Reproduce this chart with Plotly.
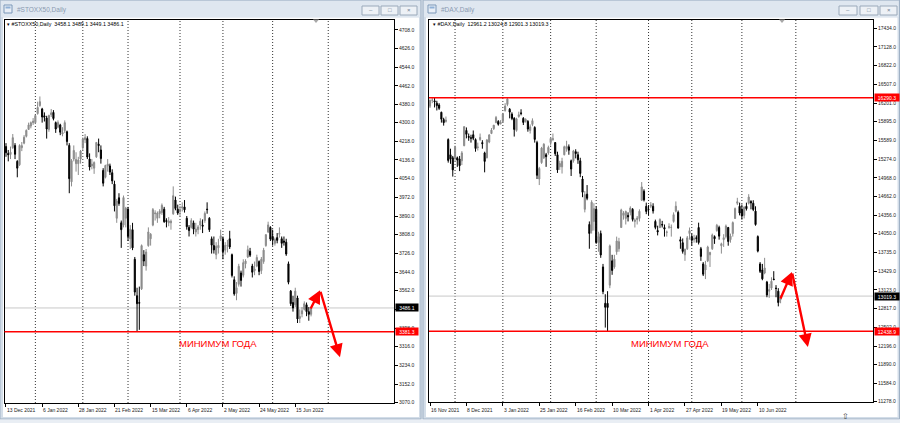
import plotly.graph_objects as go

# ---------------- #STOXX50, Daily  (bar 0 = 13 Dec 2021, last bar = 24 Jun 2022) ----------------
stoxx_open = [
    4195, 4165, 4160, 4190, 4200, 4130, 4115, 4190, 4210, 4240,
    4270, 4285, 4300, 4300, 4340, 4375, 4360, 4330, 4320, 4270,
    4335, 4345, 4300, 4280, 4290, 4250, 4265, 4260, 4200, 4040,
    4140, 4120, 4120, 4140, 4190, 4225, 4230, 4140, 4110, 4100,
    4150, 4205, 4180, 4090, 4060, 4110, 4110, 4080, 4030, 3880,
    3970, 3860, 3850, 3880, 3920, 3790, 3830, 3700, 3540, 3510,
    3570, 3720, 3670, 3760, 3790, 3850, 3900, 3880, 3900, 3905,
    3920, 3870, 3860, 3860, 3900, 3960, 3920, 3910, 3925, 3930,
    3880, 3840, 3840, 3860, 3820, 3830, 3850, 3850, 3870, 3920,
    3880, 3790, 3760, 3720, 3750, 3790, 3790, 3740, 3760, 3790,
    3720, 3610, 3550, 3590, 3640, 3630, 3680, 3710, 3735, 3670,
    3650, 3670, 3690, 3650, 3690, 3760, 3820, 3840, 3800, 3770,
    3795, 3810, 3790, 3780, 3775, 3680, 3560, 3510, 3500, 3530,
    3440, 3460, 3480, 3500, 3470, 3458.1]
stoxx_high = [
    4210, 4180, 4195, 4250, 4210, 4135, 4205, 4215, 4245, 4270,
    4300, 4305, 4320, 4335, 4392, 4415, 4365, 4345, 4330, 4335,
    4360, 4355, 4305, 4310, 4295, 4280, 4310, 4265, 4210, 4140,
    4200, 4170, 4150, 4180, 4235, 4250, 4240, 4165, 4140, 4130,
    4215, 4230, 4200, 4100, 4115, 4140, 4120, 4095, 4045, 3965,
    3990, 3870, 3980, 3930, 3930, 3850, 3860, 3710, 3575, 3580,
    3765, 3740, 3745, 3840, 3815, 3925, 3915, 3910, 3920, 3945,
    3930, 3880, 3885, 3875, 4020, 3975, 3940, 3935, 3950, 3960,
    3890, 3850, 3880, 3870, 3860, 3850, 3880, 3875, 3910, 3950,
    3885, 3800, 3800, 3775, 3790, 3830, 3800, 3775, 3785, 3825,
    3725, 3625, 3600, 3680, 3650, 3700, 3700, 3760, 3750, 3680,
    3690, 3720, 3695, 3710, 3750, 3810, 3865, 3845, 3830, 3795,
    3815, 3840, 3800, 3800, 3790, 3690, 3565, 3540, 3575, 3540,
    3480, 3490, 3515, 3510, 3490, 3489.1]
stoxx_low = [
    4150, 4130, 4140, 4185, 4140, 4060, 4110, 4175, 4205, 4235,
    4268, 4275, 4290, 4295, 4335, 4370, 4300, 4305, 4230, 4260,
    4325, 4310, 4255, 4275, 4245, 4240, 4255, 4200, 3990, 4020,
    4130, 4085, 4070, 4120, 4180, 4210, 4140, 4090, 4095, 4075,
    4145, 4170, 4120, 4020, 4055, 4085, 4070, 4030, 3910, 3860,
    3935, 3750, 3840, 3840, 3780, 3745, 3740, 3540, 3381.3, 3390,
    3565, 3670, 3650, 3755, 3760, 3845, 3870, 3860, 3880, 3895,
    3860, 3840, 3845, 3830, 3895, 3915, 3895, 3890, 3910, 3905,
    3830, 3800, 3835, 3810, 3800, 3810, 3830, 3815, 3860, 3900,
    3820, 3725, 3725, 3700, 3725, 3780, 3700, 3720, 3730, 3745,
    3620, 3540, 3520, 3580, 3580, 3620, 3660, 3705, 3710, 3620,
    3630, 3665, 3630, 3635, 3680, 3755, 3815, 3780, 3760, 3760,
    3770, 3795, 3750, 3760, 3715, 3590, 3495, 3470, 3490, 3420,
    3420, 3445, 3475, 3450, 3430, 3449.1]
stoxx_close = [
    4168, 4159, 4170, 4234, 4161, 4100, 4200, 4199, 4236, 4266,
    4290, 4300, 4306, 4331, 4367, 4392, 4325, 4324, 4272, 4331,
    4343, 4318, 4272, 4301, 4258, 4257, 4300, 4217, 4054, 4133,
    4178, 4138, 4136, 4175, 4228, 4234, 4149, 4105, 4118, 4125,
    4213, 4200, 4142, 4034, 4112, 4118, 4083, 4044, 3935, 3956,
    3945, 3830, 3971, 3924, 3800, 3832, 3750, 3556, 3505, 3507,
    3760, 3692, 3732, 3820, 3810, 3918, 3903, 3903, 3911, 3937,
    3865, 3866, 3868, 3867, 3979, 3923, 3903, 3919, 3930, 3917,
    3843, 3826, 3870, 3832, 3833, 3842, 3867, 3845, 3901, 3918,
    3830, 3762, 3741, 3757, 3761, 3803, 3733, 3761, 3761, 3754,
    3629, 3548, 3575, 3669, 3607, 3685, 3692, 3742, 3718, 3643,
    3657, 3708, 3646, 3700, 3740, 3808, 3851, 3789, 3784, 3787,
    3783, 3814, 3770, 3775, 3723, 3599, 3505, 3486, 3560, 3438,
    3449, 3474, 3505, 3470, 3458.1, 3486.1]
stoxx_price_ticks = [4708, 4626, 4544, 4462, 4380, 4300, 4218, 4136, 4054, 3972, 3890,
                     3808, 3726, 3644, 3562, 3480, 3398, 3316, 3234, 3152, 3070]
stoxx_date_bars = [0, 16, 32, 48, 64, 80, 96, 112, 128]
stoxx_date_labels = ["13 Dec 2021", "6 Jan 2022", "28 Jan 2022", "21 Feb 2022", "15 Mar 2022",
                     "6 Apr 2022", "2 May 2022", "24 May 2022", "15 Jun 2022"]
stoxx_month_bars = [13, 34, 54, 77, 96, 118, 142.6]
stoxx_year_low = 3381.3
stoxx_arrow_bars = [134.5, 139, 147.8]
stoxx_arrow_prices = [3477, 3564, 3270]
stoxx_note_pos = (93.8, 3332)

# ---------------- #DAX, Daily  (bar 0 = 16 Nov 2021, last bar = 24 Jun 2022) ----------------
dax_open = [
    16150, 16250, 16240, 16200, 16170, 16050, 15930, 15900, 15600, 15350,
    15300, 15300, 15300, 15280, 15250, 15500, 15750, 15650, 15630, 15680,
    15600, 15470, 15600, 15550, 15380, 15300, 15560, 15700, 15780, 15880,
    15900, 15860, 15900, 16080, 16180, 16100, 16020, 15950, 15750, 15980,
    16040, 15950, 15900, 15900, 15750, 15850, 15800, 15550, 14950, 15220,
    15300, 15350, 15380, 15550, 15600, 15550, 15350, 15150, 15150, 15350,
    15450, 15480, 15250, 15250, 15400, 15350, 15250, 14950, 14450, 14700,
    14200, 14100, 14250, 14450, 13900, 14050, 13500, 12900, 12900, 13200,
    13600, 13500, 13750, 13800, 14150, 14350, 14300, 14350, 14400, 14450,
    14250, 14280, 14300, 14600, 14750, 14500, 14450, 14500, 14500, 14250,
    14100, 14150, 14200, 14150, 14070, 14150, 14150, 14250, 14420, 14400,
    13950, 13900, 13700, 13800, 14050, 14000, 13950, 13980, 14150, 13800,
    13550, 13450, 13600, 13700, 13800, 14000, 14100, 14150, 13850, 13950,
    14000, 14150, 13950, 14050, 14300, 14550, 14500, 14450, 14350, 14500,
    14550, 14580, 14550, 14420, 14000, 13550, 13450, 13400, 13250, 13100,
    13150, 13300, 13150, 13100, 12961.2]
dax_high = [
    16260, 16285, 16290.3, 16240, 16200, 16060, 15960, 15980, 15620, 15450,
    15330, 15500, 15320, 15330, 15410, 15820, 15800, 15700, 15680, 15750,
    15620, 15550, 15700, 15590, 15400, 15610, 15690, 15790, 15840, 15990,
    15920, 15920, 16040, 16200, 16285, 16120, 16050, 15970, 15960, 16060,
    16100, 15970, 15950, 15920, 15850, 15950, 15820, 15580, 15150, 15480,
    15540, 15380, 15500, 15640, 15700, 15560, 15400, 15250, 15300, 15500,
    15580, 15520, 15270, 15430, 15440, 15400, 15300, 15000, 14750, 14850,
    14250, 14600, 14550, 14500, 14080, 14100, 13550, 13050, 13100, 13870,
    13700, 13700, 14000, 13980, 14460, 14420, 14430, 14400, 14500, 14470,
    14300, 14340, 14450, 14900, 14780, 14560, 14520, 14570, 14550, 14280,
    14180, 14300, 14260, 14200, 14100, 14220, 14200, 14400, 14580, 14430,
    14000, 13970, 13800, 14010, 14150, 14050, 14030, 14020, 14230, 13830,
    13580, 13600, 13850, 13750, 14050, 14020, 14210, 14180, 13900, 14040,
    14200, 14160, 14050, 14250, 14480, 14640, 14560, 14530, 14500, 14560,
    14700, 14600, 14600, 14500, 14020, 13580, 13550, 13650, 13270, 13220,
    13330, 13430, 13200, 13150, 13024.8]
dax_low = [
    16120, 16200, 16130, 16080, 16090, 15880, 15830, 15880, 15220, 15200,
    14990, 15250, 15150, 15080, 15180, 15490, 15620, 15580, 15550, 15590,
    15400, 15420, 15580, 15450, 15060, 15290, 15540, 15690, 15760, 15870,
    15830, 15850, 15880, 16060, 16150, 15950, 15920, 15650, 15730, 15960,
    16000, 15840, 15880, 15730, 15700, 15820, 15550, 14950, 14850, 15200,
    15280, 15150, 15350, 15500, 15580, 15330, 15050, 15100, 15040, 15340,
    15400, 15350, 15000, 15220, 15290, 15200, 14980, 14650, 14400, 14600,
    13800, 14050, 14100, 13880, 13750, 13650, 13050, 12500, 12438.9, 13150,
    13370, 13470, 13700, 13750, 14150, 14280, 14200, 14250, 14350, 14250,
    14150, 14200, 14250, 14590, 14580, 14370, 14350, 14470, 14380, 14120,
    14020, 14140, 14150, 14000, 14000, 14130, 14000, 14230, 14400, 14130,
    13800, 13720, 13600, 13780, 13950, 13850, 13900, 13900, 13870, 13600,
    13350, 13300, 13580, 13500, 13780, 13880, 14080, 13950, 13720, 13830,
    13970, 13850, 13900, 14000, 14290, 14520, 14350, 14280, 14300, 14430,
    14530, 14450, 14420, 14180, 13740, 13400, 13280, 13380, 13000, 12990,
    13120, 13280, 13000, 12850, 12901.3]
dax_close = [
    16248, 16251, 16221, 16160, 16116, 15937, 15879, 15917, 15257, 15281,
    15100, 15473, 15263, 15170, 15380, 15813, 15687, 15639, 15623, 15621,
    15453, 15476, 15636, 15532, 15240, 15593, 15676, 15756, 15838, 15964,
    15853, 15885, 16021, 16152, 16271, 16053, 15948, 15768, 15942, 16010,
    16032, 15883, 15934, 15773, 15810, 15912, 15603, 15011, 15124, 15460,
    15524, 15318, 15471, 15619, 15613, 15368, 15100, 15206, 15242, 15482,
    15490, 15425, 15114, 15412, 15370, 15267, 15042, 14731, 14693, 14631,
    14052, 14567, 14461, 13905, 14000, 13698, 13094, 12835, 12831, 13847,
    13442, 13628, 13929, 13917, 14440, 14388, 14413, 14326, 14473, 14283,
    14273, 14306, 14418, 14820, 14606, 14415, 14446, 14519, 14424, 14152,
    14078, 14284, 14193, 14124, 14076, 14163, 14153, 14362, 14502, 14142,
    13924, 13756, 13793, 13980, 14098, 13940, 13970, 13971, 13902, 13674,
    13380, 13534, 13828, 13739, 14027, 13964, 14186, 14008, 13882, 13982,
    14175, 13919, 14008, 14231, 14462, 14575, 14388, 14340, 14485, 14460,
    14653, 14556, 14446, 14199, 13761, 13427, 13304, 13483, 13038, 13126,
    13265, 13292, 13145, 12912, 13019.3]
dax_price_ticks = [17434, 17128, 16822, 16507, 16201, 15895, 15589, 15274, 14968, 14662, 14356,
                   14050, 13735, 13429, 13123, 12817, 12502, 12196, 11890, 11584, 11278]
dax_date_bars = [0, 16, 32, 48, 64, 80, 96, 112, 128, 144]
dax_date_labels = ["16 Nov 2021", "8 Dec 2021", "3 Jan 2022", "25 Jan 2022", "16 Feb 2022",
                   "10 Mar 2022", "1 Apr 2022", "27 Apr 2022", "19 May 2022", "10 Jun 2022"]
dax_month_bars = [11, 32, 53, 73, 96, 115, 137, 160.7]
dax_year_high = 16290.3
dax_year_low = 12438.9
dax_arrow_bars = [153.7, 159, 166]
dax_arrow_prices = [12955, 13417, 12180]
dax_note_pos = (105.3, 12241)

NOTE_TEXT = "МИНИМУМ ГОДА"

# ---------------- styling ----------------
W, H = 900, 423
FONT = "Liberation Sans, Arial, sans-serif"
BULL = "#8c8c8c"
BEAR = "#000000"
RED = "#ff0000"


def px(x):
    return x / W


def py(y):
    return 1 - y / H


fig = go.Figure()
fig.add_trace(go.Candlestick(
    x=list(range(len(stoxx_close))), open=stoxx_open, high=stoxx_high, low=stoxx_low, close=stoxx_close,
    increasing=dict(line=dict(color=BULL, width=1), fillcolor=BULL),
    decreasing=dict(line=dict(color=BEAR, width=1), fillcolor=BEAR),
    whiskerwidth=0, xaxis="x", yaxis="y", showlegend=False, hoverinfo="skip"))
fig.add_trace(go.Candlestick(
    x=list(range(len(dax_close))), open=dax_open, high=dax_high, low=dax_low, close=dax_close,
    increasing=dict(line=dict(color=BULL, width=1), fillcolor=BULL),
    decreasing=dict(line=dict(color=BEAR, width=1), fillcolor=BEAR),
    whiskerwidth=0, xaxis="x2", yaxis="y2", showlegend=False, hoverinfo="skip"))

xcommon = dict(showgrid=False, zeroline=False, showline=True, mirror=True, linecolor="#000000",
               linewidth=1, ticks="outside", ticklen=3, tickcolor="#000000", tickwidth=1,
               showticklabels=False, rangeslider=dict(visible=False), fixedrange=True)
ycommon = dict(showgrid=False, zeroline=False, showline=True, mirror=True, linecolor="#000000",
               linewidth=1, ticks="outside", ticklen=3, tickcolor="#000000", side="right",
               tickfont=dict(size=5, color="#222222", family=FONT), fixedrange=True)

fig.update_layout(
    width=W, height=H, margin=dict(l=0, r=0, t=0, b=0, autoexpand=False), autosize=False,
    paper_bgcolor="#dde5ee", plot_bgcolor="rgba(0,0,0,0)", showlegend=False,
    font=dict(family=FONT, size=5, color="#1a1a1a"),
    xaxis=dict(xcommon, domain=[px(4.5), px(394)], range=[-0.66, 171.7], anchor="y",
               tickvals=stoxx_date_bars),
    yaxis=dict(ycommon, domain=[py(403), py(19.5)], range=[3068.7, 4753], anchor="x",
               tickvals=stoxx_price_ticks, ticktext=[f"{v:.1f}" for v in stoxx_price_ticks]),
    xaxis2=dict(xcommon, domain=[px(429), px(873)], range=[-0.44, 194.6], anchor="y2",
                tickvals=dax_date_bars),
    yaxis2=dict(ycommon, domain=[py(402), py(19.5)], range=[11273, 17580], anchor="x2",
                tickvals=dax_price_ticks, ticktext=[f"{v:.1f}" for v in dax_price_ticks]),
)

shapes = []


def rect(x0, y0, x1, y1, fill, line=None, lw=1):
    shapes.append(dict(type="rect", xref="paper", yref="paper", x0=px(x0), x1=px(x1),
                       y0=py(y1), y1=py(y0), fillcolor=fill,
                       line=dict(color=line if line else fill, width=lw if line else 0),
                       layer="below"))


# window chrome
for (wx0, wx1) in [(0, 421), (423, 899.5)]:
    rect(wx0, 0, wx1, 419, "#d3dde8", "#9fb1c5")
    rect(wx0 + 1, 1, wx1 - 1, 17, "#dfe7f0")
    rect(wx0 + 3, 17.5, wx1 - 2, 417, "#ffffff")
rect(0, 419.5, 900, 423, "#e9eef4")

# title buttons
for (bx0, bx1) in [(362, 379), (381, 398), (400, 417), (839, 857), (860, 878), (880, 897)]:
    rect(bx0, 6, bx1, 15, "#edf1f6", "#9aa9ba")
# title icons
for ix in [4, 428]:
    rect(ix, 5, ix + 8, 13, "#e8eef6", "#7b97b8")
    rect(ix + 1.5, 6.5, ix + 6.5, 8.5, "#8fb0d6")

# month separators (fine dotted)
SEP = dict(color="#333333", width=1, dash="1px,2px")
for k in stoxx_month_bars:
    shapes.append(dict(type="line", xref="x", yref="y domain", x0=k, x1=k, y0=0, y1=1,
                       line=SEP, layer="below"))
for k in dax_month_bars:
    shapes.append(dict(type="line", xref="x2", yref="y2 domain", x0=k, x1=k, y0=0, y1=1,
                       line=SEP, layer="below"))

# bid lines
shapes.append(dict(type="line", xref="x domain", yref="y", x0=0, x1=1, y0=stoxx_close[-1],
                   y1=stoxx_close[-1], line=dict(color="#c8c8c8", width=1), layer="below"))
shapes.append(dict(type="line", xref="x2 domain", yref="y2", x0=0, x1=1, y0=dax_close[-1],
                   y1=dax_close[-1], line=dict(color="#c8c8c8", width=1), layer="below"))
# year high / low lines
shapes.append(dict(type="line", xref="x domain", yref="y", x0=0, x1=1, y0=stoxx_year_low,
                   y1=stoxx_year_low, line=dict(color=RED, width=1.6), layer="above"))
for v in [dax_year_high, dax_year_low]:
    shapes.append(dict(type="line", xref="x2 domain", yref="y2", x0=0, x1=1, y0=v, y1=v,
                       line=dict(color=RED, width=1.6), layer="above"))

# chart-shift markers
for cx in [316, 782]:
    shapes.append(dict(type="path", xref="paper", yref="paper",
                       path=f"M {px(cx-3)},{py(19.5)} L {px(cx+3)},{py(19.5)} L {px(cx)},{py(23)} Z",
                       fillcolor="#a8a8a8", line=dict(width=0), layer="above"))

annotations = []

# date labels
for k, t in zip(stoxx_date_bars, stoxx_date_labels):
    annotations.append(dict(x=k, xref="x", y=py(409.5), yref="paper", text=t, showarrow=False,
                            xanchor="left", yanchor="middle", xshift=-1,
                            font=dict(size=5, color="#222222", family=FONT)))
for k, t in zip(dax_date_bars, dax_date_labels):
    annotations.append(dict(x=k, xref="x2", y=py(409.5), yref="paper", text=t, showarrow=False,
                            xanchor="left", yanchor="middle", xshift=-1,
                            font=dict(size=5, color="#222222", family=FONT)))


# price boxes on the right axes
def price_box(v, yref, xpx, bg, width):
    annotations.append(dict(x=px(xpx), xref="paper", y=v, yref=yref, text=f"{v:.1f}",
                            showarrow=False, xanchor="left", yanchor="middle", bgcolor=bg,
                            width=width, align="center", borderpad=0.5,
                            font=dict(size=5, color="#ffffff", family=FONT)))


price_box(stoxx_close[-1], "y", 394.5, "#000000", 21)
price_box(stoxx_year_low, "y", 394.5, RED, 21)
price_box(dax_close[-1], "y2", 873.5, "#000000", 23)
price_box(dax_year_high, "y2", 873.5, RED, 23)
price_box(dax_year_low, "y2", 873.5, RED, 23)

# chart headers
annotations.append(dict(x=px(5), xref="paper", y=py(24), yref="paper", showarrow=False,
                        xanchor="left", yanchor="middle",
                        text="▾ #STOXX50,Daily  " + " ".join(f"{v:.1f}" for v in
                              [stoxx_open[-1], stoxx_high[-1], stoxx_low[-1], stoxx_close[-1]]),
                        font=dict(size=5.3, color="#000000", family=FONT)))
annotations.append(dict(x=px(431), xref="paper", y=py(24), yref="paper", showarrow=False,
                        xanchor="left", yanchor="middle",
                        text="▾ #DAX,Daily  " + " ".join(f"{v:.1f}" for v in
                              [dax_open[-1], dax_high[-1], dax_low[-1], dax_close[-1]]),
                        font=dict(size=5.3, color="#000000", family=FONT)))
# window titles
for tx, t in [(15, "#STOXX50,Daily"), (439, "#DAX,Daily")]:
    annotations.append(dict(x=px(tx), xref="paper", y=py(10.5), yref="paper", text=t,
                            showarrow=False, xanchor="left", yanchor="middle",
                            font=dict(size=6.5, color="#8b9bb0", family=FONT)))
# title-bar button glyphs
for cx, g in [(370.5, "–"), (389.5, "□"), (408.5, "×"), (848, "–"), (869, "□"), (888.5, "×")]:
    annotations.append(dict(x=px(cx), xref="paper", y=py(10.5), yref="paper", text=g,
                            showarrow=False, xanchor="center", yanchor="middle",
                            font=dict(size=6, color="#6d7c8e", family=FONT)))

# notes
annotations.append(dict(x=stoxx_note_pos[0], y=stoxx_note_pos[1], xref="x", yref="y",
                        text=NOTE_TEXT, showarrow=False, xanchor="center", yanchor="middle",
                        font=dict(size=9.5, color=RED, family=FONT)))
annotations.append(dict(x=dax_note_pos[0], y=dax_note_pos[1], xref="x2", yref="y2",
                        text=NOTE_TEXT, showarrow=False, xanchor="center", yanchor="middle",
                        font=dict(size=9.5, color=RED, family=FONT)))

# arrows
for bars, prices, xr, yr in [(stoxx_arrow_bars, stoxx_arrow_prices, "x", "y"),
                             (dax_arrow_bars, dax_arrow_prices, "x2", "y2")]:
    for i in range(len(bars) - 1):
        annotations.append(dict(x=bars[i + 1], y=prices[i + 1], ax=bars[i], ay=prices[i],
                                xref=xr, yref=yr, axref=xr, ayref=yr, text="", showarrow=True,
                                arrowhead=2, arrowsize=1.1, arrowwidth=2.4, arrowcolor=RED,
                                standoff=0, startstandoff=0))

# cursor glyph
annotations.append(dict(x=px(845), xref="paper", y=py(416), yref="paper", text="⇧",
                        showarrow=False, xanchor="center", yanchor="middle",
                        font=dict(size=8, color="#444444", family="DejaVu Sans")))

fig.update_layout(shapes=shapes, annotations=annotations)
fig.write_html("out.html", config={"displayModeBar": False, "staticPlot": True},
               post_script="document.body.style.margin='0';document.body.style.overflow='hidden';")
